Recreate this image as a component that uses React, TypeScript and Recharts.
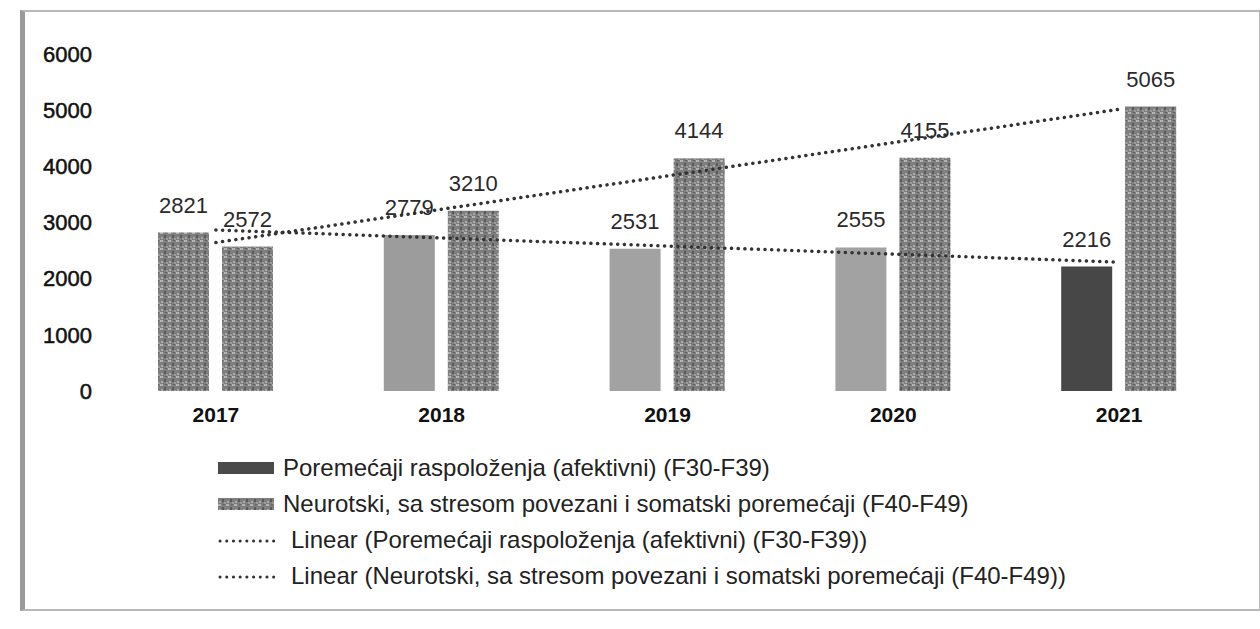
import { ComposedChart, Bar, Line, XAxis, YAxis, Cell, LabelList } from 'recharts'

const years = ['2017', '2018', '2019', '2020', '2021']
const mood = [2821, 2779, 2531, 2555, 2216]
const neuro = [2572, 3210, 4144, 4155, 5065]
// linear trend values
const moodTrend = [2867, 2724, 2580, 2437, 2294]
const neuroTrend = [2643, 3236, 3829, 4422, 5015]
const yTicks = [0, 1000, 2000, 3000, 4000, 5000, 6000]

const moodName = 'Poremećaji raspoloženja (afektivni) (F30-F39)'
const neuroName = 'Neurotski, sa stresom povezani i somatski poremećaji (F40-F49)'

// the scan shows the first series in uneven tones
const moodFills = ['url(#scan)', '#9c9c9c', '#a2a2a2', '#a2a2a2', '#474747']

const data = years.map((year, i) => ({
  year,
  mood: mood[i],
  neuro: neuro[i],
  moodTrend: moodTrend[i],
  neuroTrend: neuroTrend[i],
}))

const font = 'Arial, "Liberation Sans", sans-serif'

function ScanPattern({ id }: { id: string }) {
  return (
    <pattern id={id} width="8" height="8" patternUnits="userSpaceOnUse">
      <rect width="8" height="8" fill="#7e7e7e" />
      <rect x="0" y="0" width="3" height="2" fill="#b2b2b2" />
      <rect x="4" y="3" width="2" height="3" fill="#5a5a5a" />
      <rect x="1" y="5" width="2" height="2" fill="#a8a8a8" />
      <rect x="5" y="0" width="2" height="1" fill="#626262" />
      <rect x="6" y="6" width="2" height="2" fill="#999" />
    </pattern>
  )
}

function LegendRow({ kind, fill, label }: { kind: 'bar' | 'line'; fill?: string; label: string }) {
  return (
    <div style={{ display: 'flex', alignItems: 'center', height: 36 }}>
      <svg width={kind === 'bar' ? 65 : 73} height={16}>
        <defs>
          <ScanPattern id="scanLegend" />
        </defs>
        {kind === 'bar' ? (
          <rect x={0} y={2} width={56} height={12} fill={fill} />
        ) : (
          <line
            x1={2}
            y1={9}
            x2={62}
            y2={9}
            stroke="#333"
            strokeWidth={3}
            strokeDasharray="0.1 6.6"
            strokeLinecap="round"
          />
        )}
      </svg>
      <span>{label}</span>
    </div>
  )
}

export default function App() {
  return (
    <div
      style={{
        position: 'absolute',
        left: 0,
        top: 0,
        width: 1260,
        height: 629,
        background: '#fff',
        fontFamily: font,
      }}
    >
      <div
        style={{
          position: 'absolute',
          left: 20,
          top: 10,
          width: 1234,
          height: 597,
          border: '2px solid #b8b8b8',
          borderLeft: '5px solid #9a9a9a',
        }}
      />
      <div style={{ position: 'absolute', left: 0, top: 0 }}>
        <ComposedChart
          width={1260}
          height={436}
          data={data}
          margin={{ top: 54, right: 28, bottom: 0, left: 0 }}
          barSize={51}
          barGap={13}
        >
          <defs>
            <ScanPattern id="scan" />
          </defs>
          <XAxis
            dataKey="year"
            axisLine={false}
            tickLine={false}
            tickSize={0}
            tickMargin={16}
            height={45}
            tick={{ fontSize: 21, fontWeight: 700, fill: '#111', fontFamily: font }}
          />
          <YAxis
            width={103}
            domain={[0, 6000]}
            ticks={yTicks}
            axisLine={false}
            tickLine={false}
            tickSize={0}
            tickMargin={11}
            tick={{ fontSize: 22, fill: '#111', stroke: '#111', strokeWidth: 0.5, fontFamily: font }}
          />
          <Bar dataKey="mood" name={moodName} isAnimationActive={false}>
            {data.map((d, i) => (
              <Cell key={d.year} fill={moodFills[i]} />
            ))}
            <LabelList dataKey="mood" position="top" offset={20} fill="#2a2a2a" fontSize={22} fontFamily={font} />
          </Bar>
          <Bar dataKey="neuro" name={neuroName} fill="url(#scan)" isAnimationActive={false}>
            <LabelList dataKey="neuro" position="top" offset={20} fill="#2a2a2a" fontSize={22} fontFamily={font} />
          </Bar>
          <Line
            type="linear"
            dataKey="moodTrend"
            stroke="#333"
            strokeWidth={3.5}
            strokeDasharray="0.1 6.6"
            strokeLinecap="round"
            dot={false}
            activeDot={false}
            isAnimationActive={false}
          />
          <Line
            type="linear"
            dataKey="neuroTrend"
            stroke="#333"
            strokeWidth={3.5}
            strokeDasharray="0.1 6.6"
            strokeLinecap="round"
            dot={false}
            activeDot={false}
            isAnimationActive={false}
          />
        </ComposedChart>
      </div>
      <div style={{ position: 'absolute', left: 218, top: 450, fontSize: 24, color: '#222' }}>
        <LegendRow kind="bar" fill="#4a4a4a" label={moodName} />
        <LegendRow kind="bar" fill="url(#scanLegend)" label={neuroName} />
        <LegendRow kind="line" label={`Linear (${moodName})`} />
        <LegendRow kind="line" label={`Linear (${neuroName})`} />
      </div>
    </div>
  )
}
